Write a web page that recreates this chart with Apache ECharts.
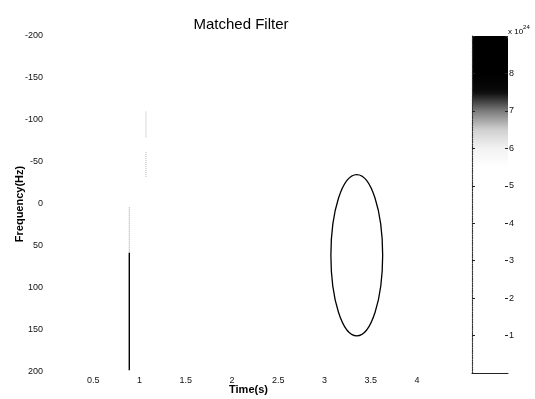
<!DOCTYPE html>
<html>
<head>
<meta charset="utf-8">
<title>Matched Filter</title>
<script src="https://cdn.jsdelivr.net/npm/echarts@6/dist/echarts.min.js"></script>
<style>
  html, body { margin: 0; padding: 0; background: #fff; }
  #chart { width: 535px; height: 399px; }
</style>
</head>
<body>
<div id="chart"></div>
<script>
// axis ticks
const timeTicks = { min: 0, max: 4.25, step: 0.5 }
const freqTicks = { min: -200, max: 200, step: 50 }
const cbarTicks = { min: 0, max: 9, step: 1 } // x 10^24

// detections: [time, freq]
const stripeDark = [[0.89, 58], [0.89, 198]]
const stripeLight = [[0.89, 4], [0.89, 58]]
const faintUpper = [[1.07, -110], [1.07, -79]]
const faintLower = [[1.07, -62], [1.07, -32]]

// ellipse: [centre time, centre freq, half width (s), half height (Hz)]
const ellipse = [[3.35, 61, 0.28, 96]]

// grey colormap, one colour per 0.5 step of the colorbar (0 .. 9)
const greyMap = [
  '#ffffff', '#ffffff', '#ffffff', '#ffffff', '#ffffff', '#ffffff',
  '#ffffff', '#ffffff', '#ffffff', '#ffffff', '#ffffff', '#ffffff',
  '#f2f2f2', '#d0d0d0', '#7a7a7a', '#0a0a0a', '#000000', '#000000', '#000000',
]

const chart = echarts.init(document.getElementById('chart'))

const labelFont = { fontFamily: 'Liberation Sans, Arial, sans-serif', fontSize: 9, color: '#111' }
const nameFont = { fontFamily: 'Liberation Sans, Arial, sans-serif', fontSize: 11, fontWeight: 'bold', color: '#000' }

function lineSeries(data, color, width, type) {
  return {
    type: 'line',
    data,
    xAxisIndex: 0,
    yAxisIndex: 0,
    symbol: 'none',
    silent: true,
    lineStyle: { color, width, type: type || 'solid' },
  }
}

chart.setOption({
  animation: false,
  title: {
    text: 'Matched Filter',
    left: 236,
    top: 12,
    textAlign: 'center',
    textStyle: { fontFamily: 'Liberation Sans, Arial, sans-serif', fontSize: 15, fontWeight: 'normal', color: '#000' },
  },
  grid: [
    { left: 47, top: 36, width: 393, height: 336, outerBoundsMode: 'none' },
    { left: 472, top: 36, width: 36, height: 337, outerBoundsMode: 'none' },
  ],
  xAxis: [
    {
      gridIndex: 0,
      type: 'value',
      min: timeTicks.min,
      max: timeTicks.max,
      interval: timeTicks.step,
      name: 'Time(s)',
      nameLocation: 'middle',
      nameGap: 12,
      nameMoveOverlap: false,
      nameTextStyle: { ...nameFont, padding: [0, 0, 0, 10] },
      axisLine: { show: false },
      axisTick: { show: false },
      splitLine: { show: false },
      axisLabel: {
        ...labelFont,
        margin: 4,
        showMinLabel: false,
        showMaxLabel: false,
      },
    },
    {
      gridIndex: 1,
      type: 'value',
      min: 0,
      max: 1,
      z: 10,
      axisLine: { show: true, lineStyle: { color: '#222', width: 1 } },
      axisTick: { show: false },
      axisLabel: { show: false },
      splitLine: { show: false },
    },
  ],
  yAxis: [
    {
      gridIndex: 0,
      type: 'value',
      inverse: true,
      min: freqTicks.min,
      max: freqTicks.max,
      interval: freqTicks.step,
      name: 'Frequency(Hz)',
      nameLocation: 'middle',
      nameGap: 22,
      nameMoveOverlap: false,
      nameTextStyle: nameFont,
      axisLine: { show: false },
      axisTick: { show: false },
      splitLine: { show: false },
      axisLabel: { ...labelFont, margin: 4 },
    },
    {
      gridIndex: 1,
      type: 'value',
      position: 'left',
      min: cbarTicks.min,
      max: cbarTicks.max,
      interval: cbarTicks.step,
      z: 10,
      axisLine: { show: true, onZero: false, lineStyle: { color: '#333', width: 1.2, type: 'dotted' } },
      axisTick: { show: true, inside: true, length: 3, lineStyle: { color: '#222' } },
      axisLabel: { show: false },
      splitLine: { show: false },
    },
    {
      gridIndex: 1,
      type: 'value',
      position: 'right',
      min: cbarTicks.min,
      max: cbarTicks.max,
      interval: cbarTicks.step,
      z: 10,
      axisLine: { show: false, onZero: false },
      axisTick: { show: true, inside: true, length: 3, lineStyle: { color: '#222' } },
      axisLabel: {
        ...labelFont,
        margin: 1,
        formatter: v => (v === cbarTicks.min || v === cbarTicks.max ? '' : String(v)),
      },
      splitLine: { show: false },
    },
  ],
  visualMap: {
    type: 'continuous',
    seriesIndex: 5,
    min: cbarTicks.min,
    max: cbarTicks.max,
    calculable: false,
    left: 472,
    top: 36,
    padding: 0,
    itemWidth: 36,
    itemHeight: 337,
    inRange: { color: greyMap },
    z: 1,
  },
  graphic: [
    {
      type: 'text',
      left: 508,
      top: 24,
      style: {
        text: '{a|x 10}{b|24}',
        rich: {
          a: { fontFamily: 'Liberation Sans, Arial, sans-serif', fontSize: 8, color: '#000', padding: [4, 0, 0, 0] },
          b: { fontFamily: 'Liberation Sans, Arial, sans-serif', fontSize: 6, color: '#000', verticalAlign: 'top' },
        },
      },
    },
  ],
  series: [
    lineSeries(stripeLight, '#9a9a9a', 1, 'dotted'),
    lineSeries(stripeDark, '#000', 1.4),
    lineSeries(faintUpper, '#b5b5b5', 1, 'dotted'),
    lineSeries(faintLower, '#b5b5b5', 1, 'dotted'),
    {
      type: 'custom',
      xAxisIndex: 0,
      yAxisIndex: 0,
      silent: true,
      data: ellipse,
      renderItem(params, api) {
        const c = api.coord([api.value(0), api.value(1)])
        const s = api.size([api.value(2), api.value(3)])
        return {
          type: 'ellipse',
          shape: { cx: c[0], cy: c[1], rx: Math.abs(s[0]), ry: Math.abs(s[1]) },
          style: { fill: 'none', stroke: '#000', lineWidth: 1.3 },
        }
      },
    },
    // colorbar target, no marks of its own
    { type: 'scatter', xAxisIndex: 0, yAxisIndex: 0, data: [], silent: true },
  ],
})
</script>
</body>
</html>
